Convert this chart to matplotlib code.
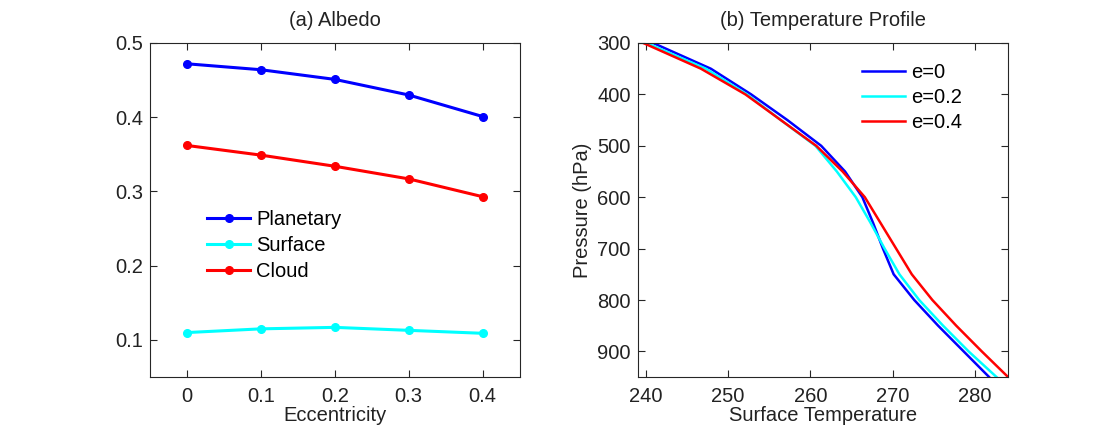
import matplotlib
matplotlib.use("Agg")
import matplotlib.pyplot as plt

plt.rcParams['font.family'] = ['Liberation Sans', 'DejaVu Sans']

# Panel (a): albedo vs eccentricity
eccentricity = [0.0, 0.1, 0.2, 0.3, 0.4]
planetary = [0.472, 0.464, 0.451, 0.430, 0.401]
surface = [0.110, 0.115, 0.117, 0.113, 0.109]
cloud = [0.362, 0.349, 0.334, 0.317, 0.293]

# Panel (b): temperature profiles
pressure = [300, 350, 400, 450, 500, 550, 600, 650, 700, 750, 800, 850, 900, 950]
temp_e0 = [240.9, 247.9, 252.8, 257.2, 261.3, 264.2, 266.3, 267.6, 268.8, 270.1,
           272.6, 275.5, 278.6, 281.7]
temp_e02 = [240.1, 247.3, 252.3, 256.4, 260.6, 263.2, 265.5, 267.3, 269.0, 270.8,
            273.2, 276.1, 279.2, 282.6]
temp_e04 = [239.7, 246.7, 252.1, 256.4, 260.7, 263.9, 266.6, 268.5, 270.4, 272.3,
            274.8, 277.7, 280.8, 284.0]

blue = '#0000ff'
cyan = '#00ffff'
red = '#ff0000'
edge = '#262626'
text_col = '#222222'
fs = 14.5

fig = plt.figure(figsize=(11.03, 4.30), dpi=100)
ax1 = fig.add_axes([0.136, 0.123, 0.335, 0.777])
ax2 = fig.add_axes([0.578, 0.123, 0.336, 0.777])

for ax in (ax1, ax2):
    for s in ax.spines.values():
        s.set_color(edge)
        s.set_linewidth(0.8)
    ax.tick_params(direction='in', top=True, right=True, length=5, width=0.8,
                   labelsize=fs, colors=edge, labelcolor=text_col)
    ax.tick_params(axis='x', pad=7)
    ax.tick_params(axis='y', pad=5)

lw = 2.2
ms = 5.5
ax1.plot(eccentricity, planetary, '-o', color=blue, lw=lw, ms=ms, label='Planetary')
ax1.plot(eccentricity, surface, '-o', color=cyan, lw=lw, ms=ms, label='Surface')
ax1.plot(eccentricity, cloud, '-o', color=red, lw=lw, ms=ms, label='Cloud')
ax1.set_xlim(-0.05, 0.45)
ax1.set_ylim(0.05, 0.5)
ax1.set_xticks([0, 0.1, 0.2, 0.3, 0.4])
ax1.set_xticklabels(['0', '0.1', '0.2', '0.3', '0.4'])
ax1.set_yticks([0.1, 0.2, 0.3, 0.4, 0.5])
ax1.set_yticklabels(['0.1', '0.2', '0.3', '0.4', '0.5'])
ax1.set_xlabel('Eccentricity', fontsize=fs, labelpad=0, color=text_col)
ax1.set_title('(a) Albedo', fontsize=fs, pad=12, color=text_col)
ax1.legend(loc='upper left', bbox_to_anchor=(0.154, 0.50), frameon=False,
           fontsize=fs, handlelength=2.15, handletextpad=0.3, labelspacing=0.35,
           borderaxespad=0, borderpad=0)

ax2.plot(temp_e0, pressure, color=blue, lw=1.8, label='e=0')
ax2.plot(temp_e02, pressure, color=cyan, lw=1.8, label='e=0.2')
ax2.plot(temp_e04, pressure, color=red, lw=1.8, label='e=0.4')
ax2.set_xlim(239, 284)
ax2.set_ylim(950, 300)
ax2.set_xticks([240, 250, 260, 270, 280])
ax2.set_yticks([300, 400, 500, 600, 700, 800, 900])
ax2.set_xlabel('Surface Temperature', fontsize=fs, labelpad=0, color=text_col)
ax2.set_ylabel('Pressure (hPa)', fontsize=fs, labelpad=4, color=text_col)
ax2.set_title('(b) Temperature Profile', fontsize=fs, pad=12, color=text_col)
ax2.legend(loc='upper left', bbox_to_anchor=(0.605, 0.941), frameon=False,
           fontsize=fs, handlelength=2.15, handletextpad=0.3, labelspacing=0.3,
           borderaxespad=0, borderpad=0)

fig.savefig('out.png', dpi=100)
